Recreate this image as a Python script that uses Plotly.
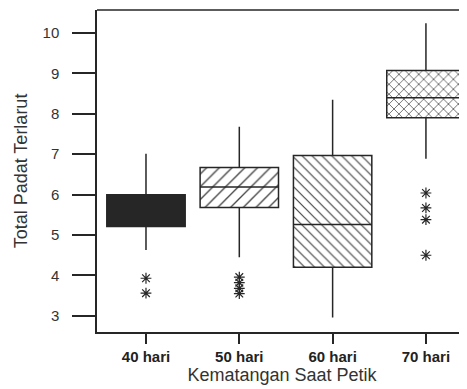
import plotly.graph_objects as go

categories = ["40 hari", "50 hari", "60 hari", "70 hari"]
q1 = [5.21, 5.68, 4.20, 7.90]
median = [5.60, 6.19, 5.26, 8.40]
q3 = [6.00, 6.67, 6.97, 9.07]
lower_whisker = [4.63, 4.45, 2.96, 6.89]
upper_whisker = [7.01, 7.68, 8.35, 10.24]

outlier_cats = ["40 hari", "40 hari", "50 hari", "50 hari", "50 hari", "50 hari",
                "70 hari", "70 hari", "70 hari", "70 hari"]
outlier_vals = [3.93, 3.56, 3.96, 3.82, 3.68, 3.55, 6.04, 5.67, 5.38, 4.50]

yticks = [3, 4, 5, 6, 7, 8, 9, 10]

ink = "#262626"
font = "Liberation Sans, Arial, sans-serif"
bw = 0.84

fig = go.Figure()

fig.add_trace(go.Bar(
    x=categories,
    y=[b - a for a, b in zip(q1, q3)],
    base=q1,
    width=bw,
    marker=dict(
        color=[ink, "white", "white", "white"],
        line=dict(width=0),
        pattern=dict(shape=["", "/", "\\", "x"], fgcolor="#333333", bgcolor="white",
                     fgopacity=1,
                     size=[8, 9, 7, 7], solidity=[0.15, 0.15, 0.17, 0.2], fillmode="overlay"),
    ),
    hoverinfo="skip",
    showlegend=False,
))

fig.add_trace(go.Box(
    x=categories,
    q1=q1, median=median, q3=q3,
    lowerfence=lower_whisker, upperfence=upper_whisker,
    width=bw,
    whiskerwidth=0,
    fillcolor="rgba(0,0,0,0)",
    line=dict(color=ink, width=1.5),
    boxpoints=False,
    showlegend=False,
))

fig.add_trace(go.Scatter(
    x=outlier_cats, y=outlier_vals, mode="markers",
    marker=dict(symbol="asterisk-open", size=9, color=ink, line=dict(color=ink, width=1.2)),
    showlegend=False,
))

fig.add_shape(type="line", xref="paper", yref="paper", x0=0, x1=1, y0=1, y1=1,
              line=dict(color=ink, width=1.5))

fig.update_layout(
    width=459, height=381,
    margin=dict(l=89, r=0, t=2, b=57),
    paper_bgcolor="white", plot_bgcolor="white",
    barmode="overlay", boxmode="overlay",
    font=dict(family=font, color="#222", size=13),
    xaxis=dict(
        type="category", range=[-0.525, 3.44], automargin=False,
        showline=True, linecolor=ink, linewidth=1.5,
        ticks="outside", ticklen=10, tickwidth=1.5, tickcolor=ink,
        showgrid=False, zeroline=False,
        tickfont=dict(size=15, family=font, color="#222", weight="bold"),
        title=dict(text="Kematangan Saat Petik", font=dict(size=18, family=font, color="#333"), standoff=4),
    ),
    yaxis=dict(
        range=[2.6, 10.57], automargin=False,
        tickvals=yticks,
        showline=True, linecolor=ink, linewidth=1.5,
        ticks="outside", ticklen=23, tickwidth=1.5, tickcolor=ink,
        ticklabelstandoff=10,
        showgrid=False, zeroline=False,
        tickfont=dict(size=15, family=font, color="#333"),
        title=dict(text="Total Padat Terlarut", font=dict(size=18, family=font, color="#333"), standoff=10),
    ),
)

fig.write_html("out.html")
